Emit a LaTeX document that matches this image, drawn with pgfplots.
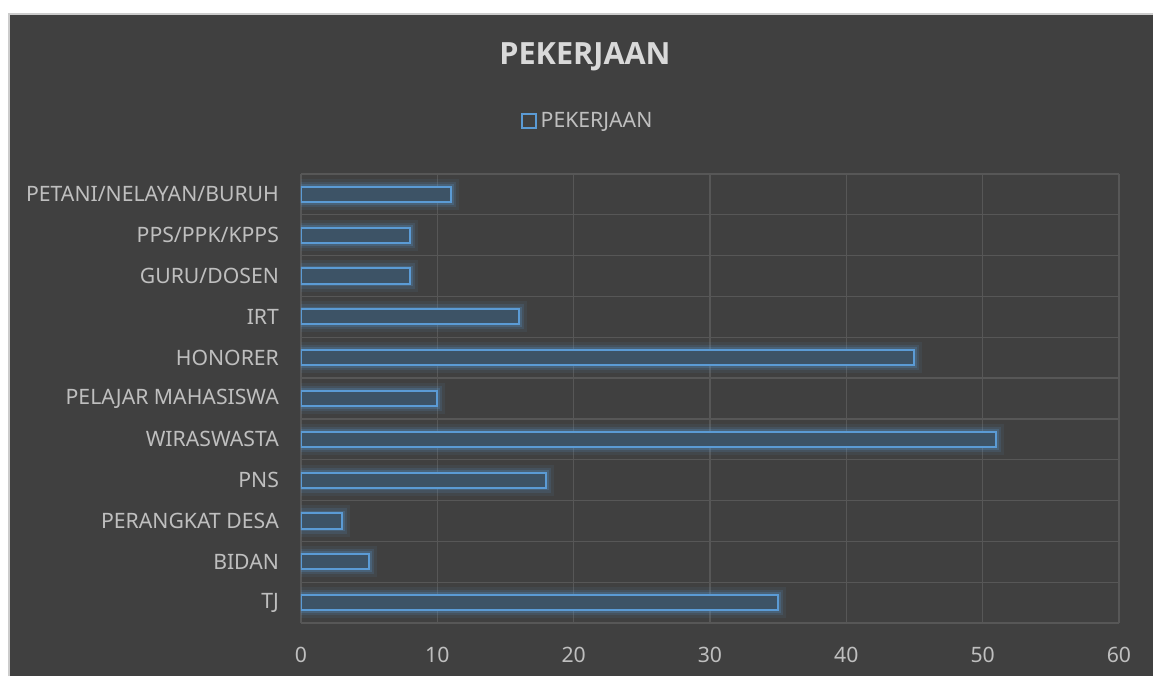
\documentclass[border=0pt]{standalone}
\usepackage{pgfplots}
\pgfplotsset{compat=1.18}
\usepackage{fontspec}
\setmainfont{Noto Sans}
\newfontfamily\titlefont{Open Sans}
\definecolor{bg}{HTML}{404040}
\definecolor{gridc}{HTML}{575757}
\definecolor{txt}{HTML}{BFBFBF}
\definecolor{ttl}{HTML}{D9D9D9}
\definecolor{barline}{HTML}{5B9BD5}
\definecolor{barfill}{HTML}{3D5366}
\pgfplotstableread{
y val
0 35
1 5
2 3
3 18
4 51
5 10
6 45
7 16
8 8
9 8
10 11
}\datatab
\begin{document}
\begin{tikzpicture}
\fill[white] (0,0) rectangle (576.5pt,338pt);
\fill[bg] (4.5pt,0) rectangle (576.5pt,331pt);
\draw[gray!40, line width=0.6pt] (4.5pt,0) -- (4.5pt,331pt) -- (576.5pt,331pt);
\node[font=\titlefont\fontsize{15.3}{18}\selectfont\bfseries, text=ttl] at (292.5pt,309.5pt) {PEKERJAAN};
\begin{axis}[
  at={(150.5pt,26.5pt)}, anchor=south west,
  scale only axis, width=409pt, height=224.5pt,
  xmin=0, xmax=60, ymin=-0.5, ymax=10.5,
  xtick={0,10,...,60},
  ytick={0,...,10},
  yticklabels={TJ,BIDAN,PERANGKAT DESA,PNS,WIRASWASTA,PELAJAR MAHASISWA,HONORER,IRT,GURU/DOSEN,PPS/PPK/KPPS,PETANI/NELAYAN/BURUH},
  minor ytick={-0.5,0.5,...,10.5},
  major tick length=0pt, minor tick length=0pt,
  xmajorgrids, yminorgrids,
  grid style={gridc, line width=0.6pt},
  minor grid style={gridc, line width=0.6pt},
  axis line style={draw=none},
  tick label style={font=\fontsize{10.6}{12}\selectfont, text=txt},
  /pgf/number format/assume math mode=true,
  xticklabel style={yshift=-8.5pt},
  yticklabel style={xshift=-7.5pt},
  legend style={at={(0.352,1.118)}, anchor=center, draw=none, fill=none,
    font=\fontsize{10.6}{12}\selectfont, text=txt, inner sep=0pt},
  legend cell align=left,
]
\addplot[xbar, bar shift=0pt, bar width=0.37, draw=barline, draw opacity=0.08, line width=8pt, fill=none, forget plot] table[x=val,y=y] {\datatab};
\addplot[xbar, bar shift=0pt, bar width=0.37, draw=barline, draw opacity=0.14, line width=5pt, fill=none, forget plot] table[x=val,y=y] {\datatab};
\addplot[xbar, bar shift=0pt, bar width=0.37, draw=barline, draw opacity=0.22, line width=2.8pt, fill=none, forget plot] table[x=val,y=y] {\datatab};
\addplot[xbar, bar shift=0pt, bar width=0.37, draw=barline, line width=1pt, fill=barfill,
  legend image code/.code={\draw[barline, line width=1pt, fill=none] (0pt,-3.3pt) rectangle (6.6pt,3.3pt);}] table[x=val,y=y] {\datatab};
\addlegendentry{PEKERJAAN}
\end{axis}
\pgfresetboundingbox
\useasboundingbox (0,0) rectangle (576.5pt,338pt);
\end{tikzpicture}
\end{document}
